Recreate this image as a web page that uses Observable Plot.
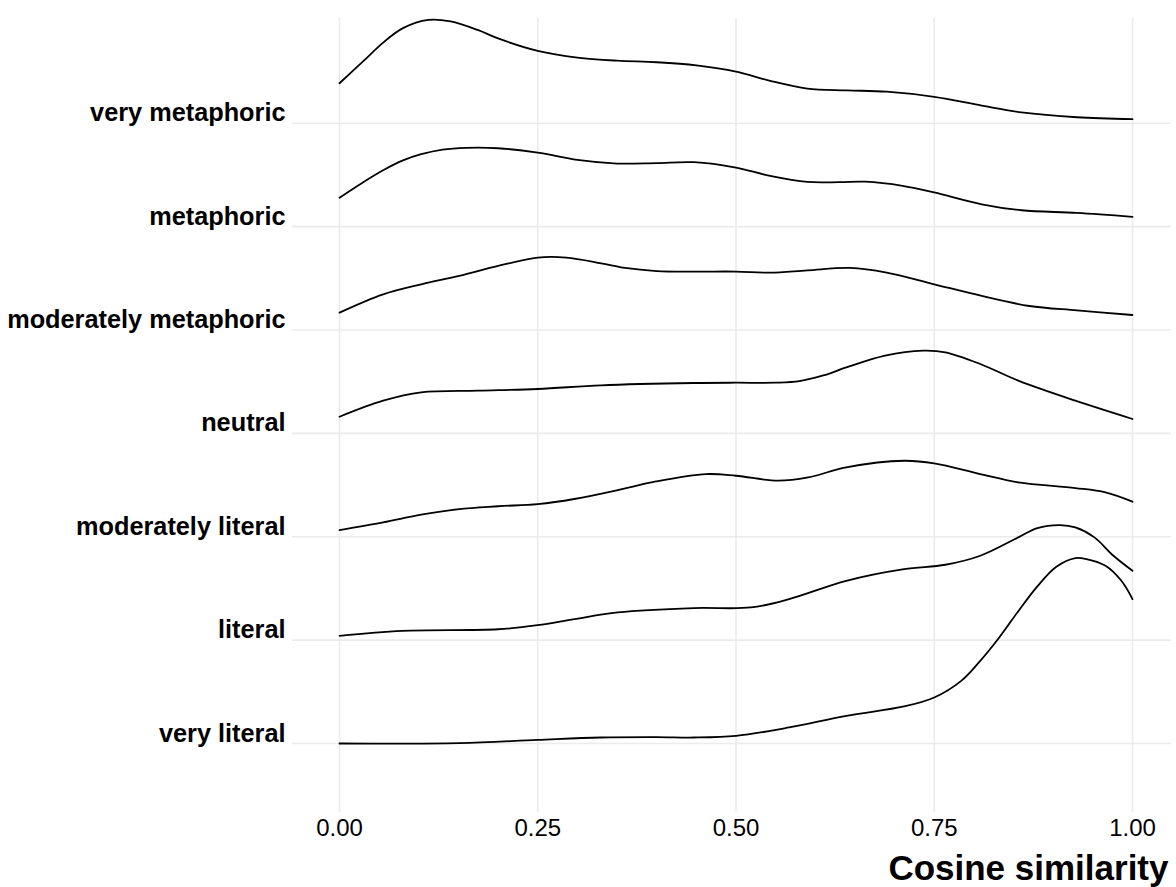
<!DOCTYPE html>
<html>
<head>
<meta charset="utf-8">
<script src="https://cdn.jsdelivr.net/npm/d3@7"></script>
<script src="https://cdn.jsdelivr.net/npm/@observablehq/plot@0.6"></script>
<style>
  html, body { margin: 0; padding: 0; background: white; }
</style>
</head>
<body>
<div id="chart"></div>
<script>
// Categories, top to bottom
const categories = ["very metaphoric", "metaphoric", "moderately metaphoric", "neutral", "moderately literal", "literal", "very literal"];
const xTicks = [0, 0.25, 0.5, 0.75, 1];

// Ridge heights (density, in row units): [x, height]
const veryMetaphoric = [[0,0.387],[0.03,0.60],[0.055,0.78],[0.08,0.92],[0.112,1.0],[0.14,0.985],[0.175,0.9],[0.2,0.82],[0.25,0.70],[0.3,0.635],[0.35,0.605],[0.4,0.59],[0.45,0.56],[0.5,0.50],[0.543,0.41],[0.59,0.335],[0.64,0.318],[0.69,0.305],[0.75,0.255],[0.81,0.17],[0.86,0.105],[0.93,0.058],[1.0,0.039]];
const metaphoric = [[0,0.28],[0.03,0.43],[0.055,0.545],[0.08,0.64],[0.103,0.70],[0.13,0.745],[0.16,0.762],[0.2,0.758],[0.25,0.716],[0.3,0.645],[0.35,0.61],[0.4,0.615],[0.447,0.623],[0.5,0.571],[0.543,0.49],[0.59,0.432],[0.63,0.43],[0.663,0.435],[0.71,0.395],[0.75,0.33],[0.81,0.216],[0.86,0.158],[0.93,0.132],[1.0,0.094]];
const moderatelyMetaphoric = [[0,0.168],[0.055,0.345],[0.103,0.442],[0.151,0.523],[0.2,0.619],[0.25,0.70],[0.286,0.70],[0.33,0.645],[0.36,0.60],[0.4,0.57],[0.45,0.565],[0.5,0.565],[0.543,0.555],[0.59,0.577],[0.644,0.60],[0.69,0.555],[0.75,0.442],[0.81,0.329],[0.87,0.232],[0.93,0.19],[1.0,0.145]];
const neutral = [[0,0.161],[0.055,0.316],[0.103,0.397],[0.175,0.413],[0.25,0.429],[0.33,0.465],[0.447,0.487],[0.5,0.49],[0.55,0.49],[0.58,0.505],[0.61,0.56],[0.64,0.64],[0.688,0.752],[0.736,0.8],[0.764,0.784],[0.808,0.671],[0.856,0.51],[0.928,0.316],[1.0,0.139]];
const moderatelyLiteral = [[0,0.065],[0.055,0.139],[0.103,0.213],[0.151,0.268],[0.2,0.295],[0.25,0.316],[0.296,0.365],[0.351,0.452],[0.399,0.535],[0.462,0.606],[0.5,0.59],[0.553,0.542],[0.591,0.574],[0.639,0.671],[0.712,0.735],[0.75,0.71],[0.808,0.606],[0.856,0.526],[0.928,0.471],[0.966,0.429],[1.0,0.339]];
const literal = [[0,0.042],[0.079,0.09],[0.2,0.105],[0.25,0.145],[0.296,0.203],[0.351,0.268],[0.447,0.31],[0.519,0.316],[0.567,0.397],[0.639,0.574],[0.712,0.687],[0.764,0.729],[0.808,0.816],[0.856,0.994],[0.88,1.084],[0.909,1.113],[0.928,1.09],[0.952,0.994],[0.976,0.816],[1.0,0.671]];
const veryLiteral = [[0,0],[0.151,0.003],[0.25,0.035],[0.329,0.058],[0.4,0.062],[0.447,0.058],[0.5,0.074],[0.567,0.155],[0.639,0.268],[0.712,0.358],[0.75,0.445],[0.784,0.606],[0.808,0.80],[0.832,1.026],[0.856,1.28],[0.88,1.52],[0.904,1.71],[0.928,1.794],[0.942,1.784],[0.966,1.719],[0.986,1.574],[1.0,1.397]];

const seriesList = [veryMetaphoric, metaphoric, moderatelyMetaphoric, neutral, moderatelyLiteral, literal, veryLiteral];

// Build rows: each category sits at integer position (very literal = 1 ... very metaphoric = 7)
const n = categories.length;
const rows = [];
seriesList.forEach((s, i) => {
  const pos = n - i;
  s.forEach(([x, h]) => rows.push({cat: categories[i], x, y: pos + h}));
});
const labels = categories.map((c, i) => ({cat: c, pos: n - i}));

const chart = Plot.plot({
  width: 1176,
  height: 887,
  marginLeft: 292,
  marginRight: 5,
  marginTop: 18,
  marginBottom: 75,
  x: {domain: [-0.0593, 1.0492]},
  y: {domain: [0.3326, 8.013], axis: null},
  style: {fontFamily: "'Liberation Sans', Arial, Helvetica, sans-serif", background: "white", color: "black"},
  marks: [
    Plot.ruleX(xTicks, {stroke: "#ebebeb", strokeWidth: 1.6}),
    Plot.ruleY(labels, {y: "pos", stroke: "#ebebeb", strokeWidth: 1.6}),
    Plot.line(rows, {x: "x", y: "y", z: "cat", stroke: "black", strokeWidth: 1.8, curve: "catmull-rom"}),
    Plot.text(labels, {y: "pos", text: "cat", frameAnchor: "left", textAnchor: "end", lineAnchor: "bottom", dx: -7, dy: -2, fontSize: 25.3, fontWeight: "bold", fill: "black"}),
    Plot.axisX({ticks: xTicks, tickFormat: d3.format(".2f"), tickSize: 0, tickPadding: 6, fontSize: 24, label: null, fill: "black"}),
    Plot.text(["Cosine similarity"], {frameAnchor: "bottom-right", textAnchor: "end", lineAnchor: "bottom", dx: -3, dy: 67, fontSize: 35, fontWeight: "bold", fill: "black"})
  ]
});
document.getElementById("chart").appendChild(chart);
</script>
</body>
</html>
